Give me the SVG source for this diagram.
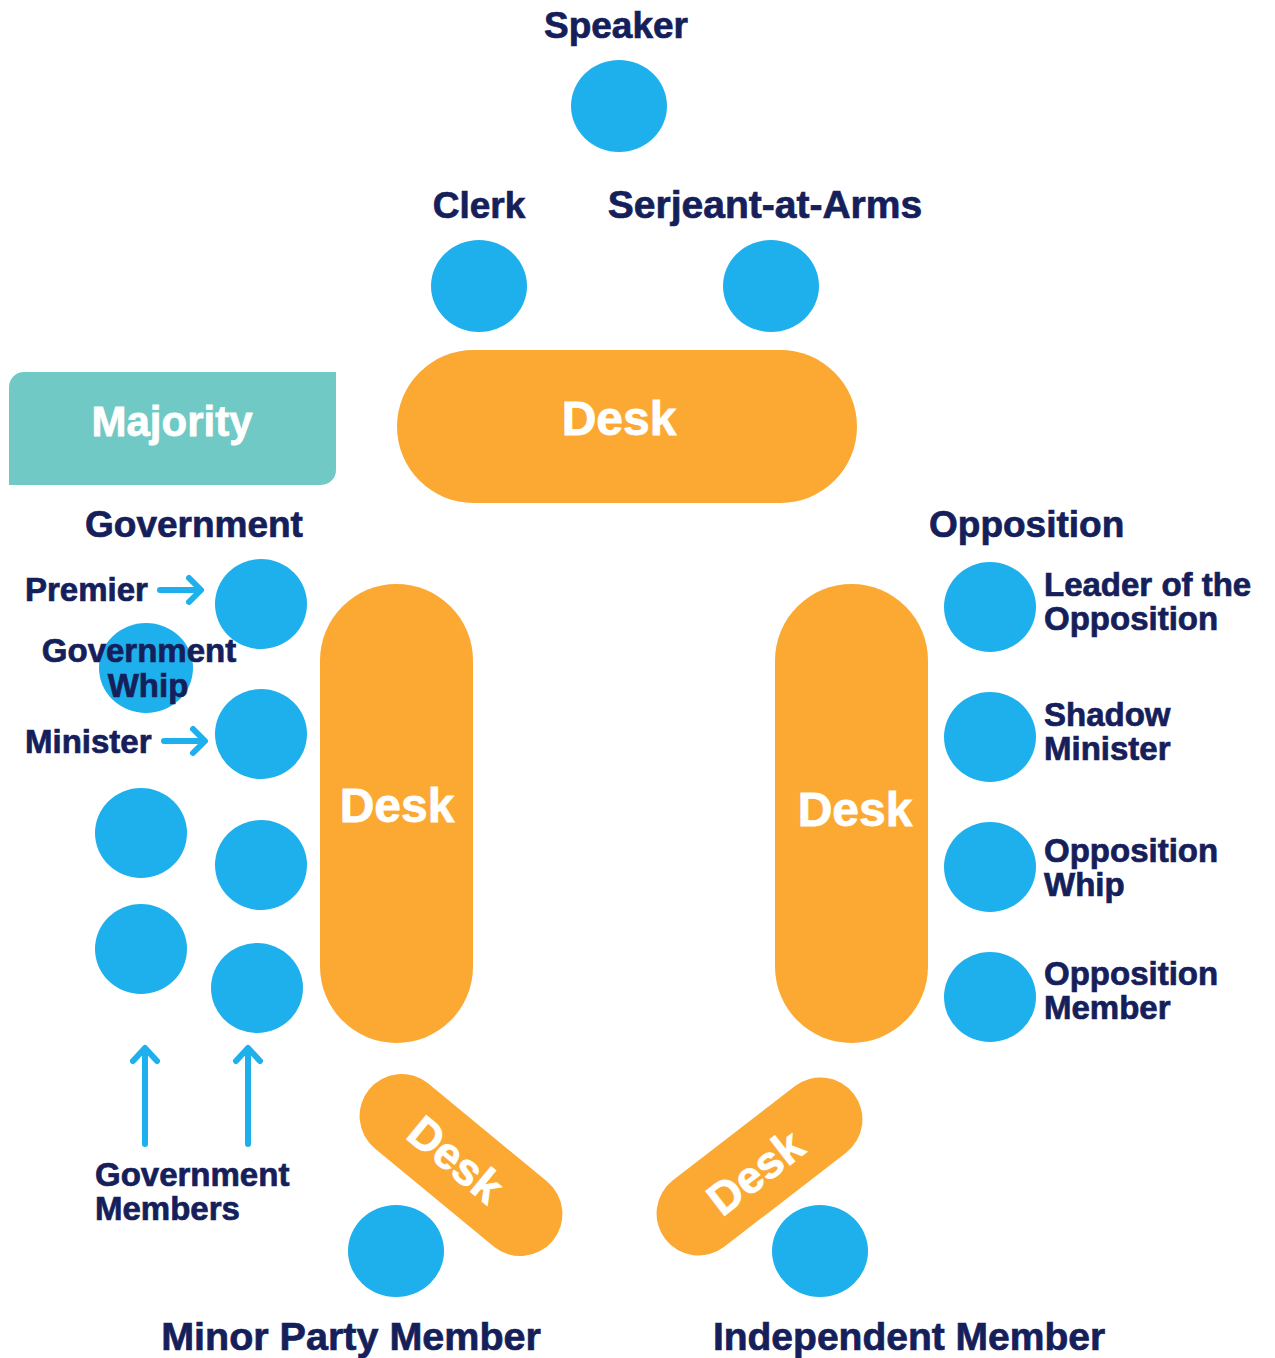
<svg xmlns="http://www.w3.org/2000/svg" width="1275" height="1358" viewBox="0 0 1275 1358">
<style>
.seat{fill:#1eb0ec}
.desk{fill:#fba933}
.lbl{font-family:"Liberation Sans",Arial,sans-serif;font-weight:700;fill:#15205b;stroke:#15205b;stroke-width:0.7}
.big{font-size:37px}
.sm{font-size:33px}
.dk{font-family:"Liberation Sans",Arial,sans-serif;font-weight:700;fill:#fff;stroke:#fff;stroke-width:0.8;font-size:48px;text-anchor:middle}
.arr{fill:none;stroke:#1eb0ec;stroke-width:6;stroke-linecap:round;stroke-linejoin:round}
</style>
<rect width="1275" height="1358" fill="#fff"/>

<g id="majority">
<path d="M24 372 H336 V470 A15 15 0 0 1 321 485 H9 V387 A15 15 0 0 1 24 372 Z" fill="#70c9c5"/>
<text x="172" y="436" text-anchor="middle" style="font-family:'Liberation Sans',Arial,sans-serif;font-weight:700;font-size:42px;fill:#fff;stroke:#fff;stroke-width:0.8">Majority</text>
</g>

<g id="speaker">
<ellipse class="seat" cx="619" cy="106" rx="48" ry="46"/>
<text class="lbl big" x="616" y="38" text-anchor="middle">Speaker</text>
</g>
<g id="clerk">
<ellipse class="seat" cx="479" cy="286" rx="48" ry="46"/>
<text class="lbl big" x="479" y="218" text-anchor="middle">Clerk</text>
</g>
<g id="serjeant">
<ellipse class="seat" cx="771" cy="286" rx="48" ry="46"/>
<text class="lbl" style="font-size:39px" x="765" y="218" text-anchor="middle">Serjeant-at-Arms</text>
</g>

<g id="desk-top">
<rect class="desk" x="397" y="350" width="460" height="153" rx="76.5"/>
<text class="dk" x="619" y="435">Desk</text>
</g>
<g id="desk-gov">
<rect class="desk" x="320" y="584" width="153" height="459" rx="76.5"/>
<text class="dk" x="397" y="822">Desk</text>
</g>
<g id="desk-opp">
<rect class="desk" x="775" y="584" width="153" height="459" rx="76.5"/>
<text class="dk" x="855" y="826">Desk</text>
</g>
<g id="desk-minor">
<rect class="desk" x="342" y="1123" width="238" height="84" rx="42" transform="rotate(39.5 461 1165)"/>
<text class="dk" x="456" y="1175" style="font-size:45px" transform="rotate(39.5 456 1159)">Desk</text>
</g>
<g id="desk-indep">
<rect class="desk" x="640.5" y="1124.5" width="238" height="84" rx="42" transform="rotate(-37.7 759.5 1166.5)"/>
<text class="dk" x="755" y="1188" style="font-size:45px" transform="rotate(-37.7 755 1172)">Desk</text>
</g>

<g id="government">
<text class="lbl big" x="85" y="537">Government</text>
</g>
<g id="opposition">
<text class="lbl big" x="929" y="537">Opposition</text>
</g>

<g id="premier">
<ellipse class="seat" cx="261" cy="604" rx="46" ry="45"/>
<text class="lbl sm" x="25" y="601">Premier</text>
</g>
<g id="gov-whip">
<ellipse class="seat" cx="146" cy="668" rx="47" ry="45"/>
<text class="lbl sm" x="139" y="662" text-anchor="middle">Government</text>
<text class="lbl sm" x="148" y="697" text-anchor="middle">Whip</text>
</g>
<g id="minister">
<ellipse class="seat" cx="261" cy="734" rx="46" ry="45"/>
<text class="lbl sm" x="25" y="753">Minister</text>
</g>
<g id="gov-member-1">
<ellipse class="seat" cx="261" cy="865" rx="46" ry="45"/>
</g>
<g id="gov-member-2">
<ellipse class="seat" cx="257" cy="988" rx="46" ry="45"/>
</g>
<g id="gov-member-3">
<ellipse class="seat" cx="141" cy="833" rx="46" ry="45"/>
</g>
<g id="gov-member-4">
<ellipse class="seat" cx="141" cy="949" rx="46" ry="45"/>
</g>
<g id="gov-members-label">
<text class="lbl sm" x="95" y="1186">Government</text>
<text class="lbl sm" x="95" y="1220">Members</text>
</g>

<g id="leader-opp">
<ellipse class="seat" cx="990" cy="607" rx="46" ry="45"/>
<text class="lbl sm" x="1044" y="596">Leader of the</text>
<text class="lbl sm" x="1044" y="630">Opposition</text>
</g>
<g id="shadow-minister">
<ellipse class="seat" cx="990" cy="737" rx="46" ry="45"/>
<text class="lbl sm" x="1044" y="726">Shadow</text>
<text class="lbl sm" x="1044" y="760">Minister</text>
</g>
<g id="opp-whip">
<ellipse class="seat" cx="990" cy="867" rx="46" ry="45"/>
<text class="lbl sm" x="1044" y="862">Opposition</text>
<text class="lbl sm" x="1044" y="896">Whip</text>
</g>
<g id="opp-member">
<ellipse class="seat" cx="990" cy="997" rx="46" ry="45"/>
<text class="lbl sm" x="1044" y="985">Opposition</text>
<text class="lbl sm" x="1044" y="1019">Member</text>
</g>

<g id="minor-party">
<ellipse class="seat" cx="396" cy="1251" rx="48" ry="46"/>
<text class="lbl" style="font-size:39.5px" x="351" y="1350" text-anchor="middle">Minor Party Member</text>
</g>
<g id="independent">
<ellipse class="seat" cx="820" cy="1251" rx="48" ry="46"/>
<text class="lbl" style="font-size:39px" x="909" y="1350" text-anchor="middle">Independent Member</text>
</g>

<g id="connectors">
<path class="arr" d="M160 590 H200 M189 578 L201 590 L189 602"/>
<path class="arr" d="M164 741 H204 M193 729 L205 741 L193 753"/>
<path class="arr" d="M145 1144 V1050 M133 1061 L145 1048 L157 1061"/>
<path class="arr" d="M248 1144 V1050 M236 1061 L248 1048 L260 1061"/>
</g>
</svg>
